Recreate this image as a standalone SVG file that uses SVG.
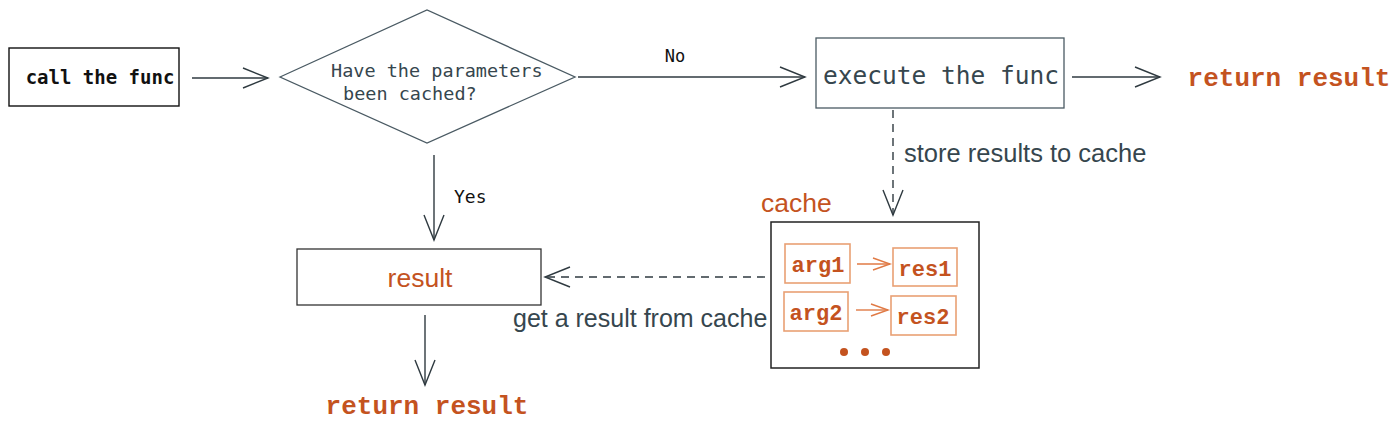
<svg xmlns="http://www.w3.org/2000/svg" width="1400" height="432" viewBox="0 0 1400 432">
<style>
.mono{font-family:"DejaVu Sans Mono","Liberation Mono",monospace}
.cour{font-family:"Liberation Mono","Courier New",monospace;font-weight:bold;fill:#c4531f}
.sans{font-family:"Liberation Sans",Arial,sans-serif}
.slate{fill:#36464e}
.orange{fill:#c4531f}
.ln{fill:none;stroke:#2f3a40;stroke-width:1.4}
.dash{stroke-dasharray:8 6}
.obox{fill:#fff;stroke:#e9a074;stroke-width:1.6}
</style>
<defs>
<marker id="ah" markerUnits="userSpaceOnUse" markerWidth="32" markerHeight="26" refX="26" refY="11" orient="auto">
<path d="M1,1 L26,11 L1,21" fill="none" stroke="#2f3a40" stroke-width="1.4"/>
</marker>
<marker id="ahs" markerUnits="userSpaceOnUse" markerWidth="24" markerHeight="16" refX="18" refY="7" orient="auto">
<path d="M1,1 L18,7 L1,13" fill="none" stroke="#e07a45" stroke-width="1.4"/>
</marker>
</defs>
<rect width="1400" height="432" fill="#fff"/>
<g id="connectors">
<line class="ln" x1="192" y1="78" x2="268" y2="78" marker-end="url(#ah)"/>
<line class="ln" x1="578" y1="77" x2="805" y2="77" marker-end="url(#ah)"/>
<text class="mono" x="675" y="62" font-size="17" text-anchor="middle" fill="#111">No</text>
<line class="ln" x1="1072" y1="77" x2="1160" y2="77" marker-end="url(#ah)"/>
<line class="ln dash" x1="893" y1="110" x2="893" y2="215" marker-end="url(#ah)"/>
<text class="sans slate" x="904" y="162" font-size="25.5">store results to cache</text>
<line class="ln" x1="434" y1="155" x2="434" y2="240" marker-end="url(#ah)"/>
<text class="mono" x="454" y="203" font-size="18" fill="#111">Yes</text>
<line class="ln dash" x1="765" y1="277" x2="545" y2="277" marker-end="url(#ah)"/>
<text class="sans slate" x="513" y="327" font-size="25">get a result from cache</text>
<line class="ln" x1="425" y1="315" x2="425" y2="385" marker-end="url(#ah)"/>
</g>
<g id="call">
<rect x="9" y="48" width="170" height="58" fill="#fff" stroke="#111" stroke-width="1.4"/>
<text class="mono" x="100" y="84" font-size="19" font-weight="bold" text-anchor="middle" fill="#111">call the func</text>
</g>
<g id="decision">
<polygon points="280,77 427,10 575,77 427,143" fill="#fff" stroke="#4a5a63" stroke-width="1.3"/>
<text class="mono slate" x="331" y="77" font-size="18.5">Have the parameters</text>
<text class="mono slate" x="343" y="100" font-size="18.5">been cached?</text>
</g>
<g id="execute">
<rect x="816" y="38" width="248" height="70" fill="#fff" stroke="#4a5a63" stroke-width="1.3"/>
<text class="mono slate" x="941" y="84" font-size="24.5" text-anchor="middle">execute the func</text>
</g>
<g id="return-right">
<text class="cour" x="1289" y="86" font-size="26" text-anchor="middle">return result</text>
</g>
<g id="result">
<rect x="297" y="249" width="244" height="56" fill="#fff" stroke="#333" stroke-width="1.3"/>
<text class="sans orange" x="420" y="287" font-size="26.5" text-anchor="middle">result</text>
</g>
<g id="return-bottom">
<text class="cour" x="427" y="414" font-size="26" text-anchor="middle">return result</text>
</g>
<g id="cache">
<text class="sans orange" x="761" y="212" font-size="26.5">cache</text>
<rect x="771" y="222" width="208" height="146" fill="#fff" stroke="#222" stroke-width="1.5"/>
<rect class="obox" x="785" y="244" width="65" height="39"/>
<text class="cour" x="818" y="272" font-size="22" text-anchor="middle">arg1</text>
<rect class="obox" x="893" y="248" width="64" height="38"/>
<text class="cour" x="925" y="276" font-size="22" text-anchor="middle">res1</text>
<rect class="obox" x="784" y="292" width="64" height="39"/>
<text class="cour" x="816" y="320" font-size="22" text-anchor="middle">arg2</text>
<rect class="obox" x="891" y="296" width="65" height="39"/>
<text class="cour" x="923" y="324" font-size="22" text-anchor="middle">res2</text>
<line x1="857" y1="264" x2="890" y2="264" stroke="#e07a45" stroke-width="1.4" marker-end="url(#ahs)"/>
<line x1="856" y1="310" x2="888" y2="310" stroke="#e07a45" stroke-width="1.4" marker-end="url(#ahs)"/>
<circle cx="844" cy="352" r="4" fill="#c4531f"/>
<circle cx="865" cy="352" r="4" fill="#c4531f"/>
<circle cx="886" cy="352" r="4" fill="#c4531f"/>
</g>
</svg>
